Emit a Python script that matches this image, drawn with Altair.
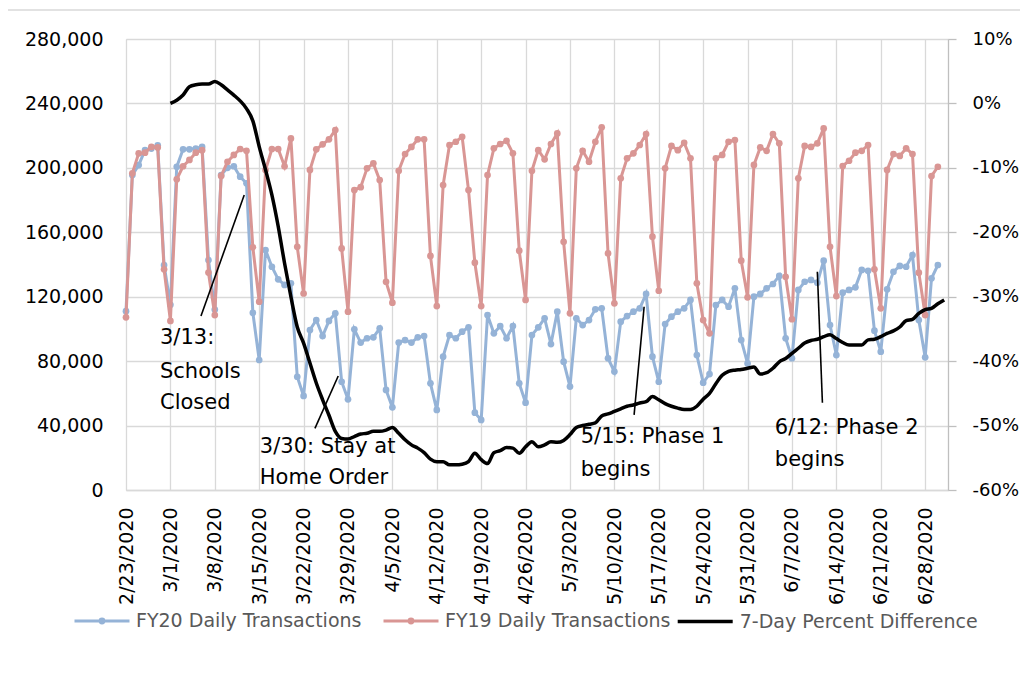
import altair as alt
import pandas as pd

START = pd.Timestamp("2020-02-23")

# FY20 daily transactions (thousands), 2/23/2020 .. 6/30/2020
fy20 = [
    111.0, 195.5, 201.7, 211.0, 212.0, 214.0, 139.7,
    115.0, 200.7, 211.5, 211.5, 212.0, 213.0, 142.8,
    112.0, 195.5, 200.0, 201.0, 194.5, 190.4, 110.0,
    80.7, 149.0, 138.6, 130.8, 127.3, 128.3, 70.3,
    58.4, 99.3, 105.5, 95.6, 105.0, 109.7, 67.2,
    56.3, 99.8, 91.5, 94.2, 94.8, 100.4, 62.1,
    51.3, 91.5, 93.1, 91.5, 94.8, 95.6, 66.2,
    49.7, 82.8, 96.2, 94.2, 98.3, 101.0, 48.0,
    43.5, 108.6, 97.3, 101.8, 94.2, 101.8, 66.2,
    54.2, 96.2, 101.0, 106.6, 90.6, 110.7, 79.7,
    64.2, 106.6, 102.4, 105.5, 112.2, 112.8, 81.8,
    73.5, 104.5, 108.0, 110.7, 112.8, 121.7, 82.8,
    67.2, 103.0, 107.6, 110.7, 112.8, 118.0, 83.8,
    66.6, 72.0, 114.8, 118.0, 113.8, 125.2, 93.1,
    78.6, 120.0, 121.7, 125.2, 127.9, 132.9, 94.2,
    81.8, 124.2, 129.3, 130.4, 128.7, 142.4, 102.4,
    83.8, 122.5, 124.2, 125.8, 136.6, 136.1, 98.9,
    85.9, 124.6, 135.5, 139.1, 138.6, 145.9, 105.5,
    82.4, 131.4, 139.7,
]

# FY19 daily transactions (thousands), aligned by weekday
fy19 = [
    107.2, 196.6, 209.0, 209.4, 213.0, 212.7, 137.0,
    105.0, 192.9, 201.0, 204.9, 209.4, 211.0, 135.0,
    108.6, 195.0, 203.8, 208.0, 211.7, 210.6, 150.7,
    116.9, 198.7, 211.7, 211.7, 201.0, 218.3, 151.0,
    122.0, 198.7, 211.5, 214.6, 217.7, 223.5, 150.0,
    110.7, 186.2, 188.0, 199.7, 202.8, 192.4, 129.3,
    116.3, 198.2, 208.6, 213.0, 217.7, 217.7, 145.3,
    114.2, 189.3, 214.2, 216.2, 219.3, 186.2, 141.1,
    114.2, 195.5, 212.1, 214.8, 216.8, 209.0, 148.6,
    118.0, 198.2, 211.0, 205.3, 214.8, 221.4, 154.1,
    109.7, 199.7, 210.6, 203.8, 216.2, 225.2, 146.9,
    115.9, 193.5, 205.9, 209.0, 214.2, 221.0, 157.3,
    123.7, 199.7, 213.6, 211.0, 215.6, 205.9, 128.3,
    105.5, 97.3, 205.9, 208.0, 216.2, 217.3, 142.4,
    119.6, 201.8, 212.7, 210.6, 221.0, 215.2, 132.4,
    106.0, 193.5, 213.6, 213.0, 215.2, 224.5, 151.0,
    120.4, 201.1, 204.4, 209.4, 210.6, 214.2, 137.0,
    112.8, 198.7, 208.6, 207.4, 212.1, 208.6, 134.9,
    108.6, 194.9, 200.7,
]

# 7-day percent difference (%), 3/1/2020 .. 7/1/2020
pct_start = 7
pct = [
    0.0, 0.5, 1.3, 2.6, 2.9, 3.0, 3.0,
    3.4, 2.9, 2.1, 1.3, 0.4, -0.8, -2.7,
    -6.7, -10.3, -14.2, -19.1, -24.8, -30.0, -34.7,
    -37.2, -40.3, -43.4, -46.0, -48.4, -50.9, -52.0,
    -52.1, -51.7, -51.3, -51.2, -50.9, -50.9, -50.7,
    -50.3, -51.2, -52.2, -53.0, -53.5, -54.2, -55.2,
    -55.6, -55.6, -56.1, -56.1, -56.0, -55.6, -54.3,
    -55.3, -55.9, -54.2, -53.9, -53.4, -53.5, -54.3,
    -53.3, -52.5, -53.3, -53.0, -52.5, -52.6, -52.3,
    -51.4, -50.3, -50.0, -49.8, -49.6, -48.5, -48.2,
    -47.8, -47.4, -47.0, -46.8, -46.5, -46.3, -45.5,
    -46.0, -46.6, -47.0, -47.3, -47.5, -47.5, -47.0,
    -45.9, -45.0, -43.5, -42.2, -41.6, -41.4, -41.3,
    -41.1, -40.9, -42.0, -41.8, -41.1, -40.1, -39.6,
    -38.8, -38.0, -37.2, -36.8, -36.6, -36.2, -35.9,
    -36.5, -37.1, -37.5, -37.5, -37.5, -36.7, -36.6,
    -36.2, -35.7, -35.3, -34.7, -33.7, -33.5, -32.6,
    -32.0, -31.8, -31.1, -30.5,
]

SERIES = ["FY20 Daily Transactions", "FY19 Daily Transactions", "7-Day Percent Difference"]
COLORS = ["#95B3D7", "#D99694", "#000000"]

# annotation text lines: (day offset from 2/23, left-axis value, text)
notes = [
    (5.36, 94400, "3/13:"), (5.36, 73400, "Schools"), (5.36, 54000, "Closed"),
    (21.1, 26900, "3/30: Stay at"), (21.1, 7400, "Home Order"),
    (71.7, 33100, "5/15: Phase 1"), (71.7, 12400, "begins"),
    (102.3, 38300, "6/12: Phase 2"), (102.3, 18600, "begins"),
]
# leader lines: (day0, value0, day1, value1)
leaders = [
    (11.82, 108000, 18.64, 183100),
    (29.79, 38300, 33.46, 70800),
    (80.11, 46600, 81.69, 113800),
    (109.8, 54200, 109.0, 135500),
]


def day(d):
    return (START + pd.Timedelta(days=d)).strftime("%Y-%m-%dT%H:%M:%SZ")


blue_df = pd.DataFrame({"date": [day(i) for i in range(len(fy20))],
                        "value": [v * 1000 for v in fy20], "series": SERIES[0]})
red_df = pd.DataFrame({"date": [day(i) for i in range(len(fy19))],
                       "value": [v * 1000 for v in fy19], "series": SERIES[1]})
black_df = pd.DataFrame({"date": [day(pct_start + i) for i in range(len(pct))],
                         "pct": [p / 100 for p in pct], "series": SERIES[2]})
note_df = pd.DataFrame({"date": [day(n[0]) for n in notes],
                        "value": [n[1] for n in notes], "text": [n[2] for n in notes]})
lead_df = pd.DataFrame({"date": [day(l[0]) for l in leaders], "value": [l[1] for l in leaders],
                        "date2": [day(l[2]) for l in leaders], "value2": [l[3] for l in leaders]})

FONT = "DejaVu Sans"
GRID = "#d9d9d9"

week_vals = [alt.DateTime(year=2020, month=int(t.month), date=int(t.day), utc=True)
             for t in pd.date_range("2020-02-23", "2020-06-28", freq="7D")]

x_scale = alt.Scale(type="utc",
                    domain=[alt.DateTime(year=2020, month=2, date=23, utc=True),
                            alt.DateTime(year=2020, month=7, date=1, hours=14, minutes=24, utc=True)])

x_axis = alt.Axis(values=week_vals, labelExpr="utcFormat(datum.value, '%-m/%-d/%Y')",
                  labelAngle=270,
                  labelFont=FONT, labelFontSize=19, labelColor="#000000", labelPadding=17,
                  ticks=False, tickSize=0, domainColor=GRID, domainWidth=1.3,
                  grid=True, gridColor=GRID, gridWidth=1.3, title=None,
                  labelOverlap=False, labelFlush=False, labelBound=False)

X = alt.X("date:T", scale=x_scale, axis=x_axis)

y_left_scale = alt.Scale(domain=[0, 280000], nice=False, zero=True)
y_left_axis = alt.Axis(values=list(range(0, 280001, 40000)), format=",.0f",
                       labelFont=FONT, labelFontSize=19, labelColor="#000000",
                       labelPadding=23, ticks=False, tickSize=0, domain=False,
                       grid=True, gridColor=GRID, gridWidth=1.3, title=None)

DOT = "M-1,0L1,0M-0.07,0a0.07,0.07 0 1,0 0.14,0a0.07,0.07 0 1,0 -0.14,0"

color = alt.Color("series:N",
                  scale=alt.Scale(domain=SERIES[:2], range=COLORS[:2]),
                  legend=alt.Legend(orient="none", direction="horizontal", title=None,
                                    legendX=-53, legendY=553, padding=0,
                                    symbolType=DOT, symbolSize=3025, symbolStrokeWidth=3,
                                    symbolFillColor="transparent",
                                    labelFont=FONT, labelFontSize=19, labelColor="#595959",
                                    labelOffset=5, columnPadding=15, labelLimit=400))

stroke = alt.Stroke("series:N",
                    scale=alt.Scale(domain=SERIES[2:], range=COLORS[2:]),
                    legend=alt.Legend(orient="none", direction="horizontal", title=None,
                                      legendX=549.7, legendY=553, padding=0,
                                      symbolType="M-1,0L1,0", symbolSize=3025,
                                      symbolStrokeWidth=3.5,
                                      labelFont=FONT, labelFontSize=19, labelColor="#595959",
                                      labelOffset=5, labelLimit=400))

Y = alt.Y("value:Q", scale=y_left_scale, axis=y_left_axis)

blue = alt.Chart(blue_df).mark_line(
    strokeWidth=3, point=alt.OverlayMarkDef(size=45, filled=True, color=COLORS[0])
).encode(x=X, y=Y, color=color)

red = alt.Chart(red_df).mark_line(
    strokeWidth=3, point=alt.OverlayMarkDef(size=45, filled=True, color=COLORS[1])
).encode(x=X, y=Y, color=color)

texts = alt.Chart(note_df).mark_text(
    align="left", baseline="middle", font=FONT, fontSize=21, color="#000000"
).encode(x=X, y=Y, text="text:N")

rules = alt.Chart(lead_df).mark_rule(color="#000000", strokeWidth=1.6).encode(
    x=X, y=Y, x2="date2:T", y2="value2:Q")

frame = alt.Chart(alt.Data(values=[{"a": 1}])).mark_rect(
    fill="transparent", stroke="#d9d9d9", strokeWidth=1.5
).encode(x=alt.value(-119), x2=alt.value(1000), y=alt.value(-29), y2=alt.value(800))

left = alt.layer(frame, blue, red, texts, rules)

black = alt.Chart(black_df).mark_line(
    strokeWidth=3.5, interpolate="monotone"
).encode(
    x=X,
    y=alt.Y("pct:Q", scale=alt.Scale(domain=[-0.6, 0.1], nice=False, zero=False),
            axis=alt.Axis(orient="right", values=[-0.6, -0.5, -0.4, -0.3, -0.2, -0.1, 0, 0.1],
                          labelExpr="(datum.value < -0.0001 ? '-' : '') + format(abs(datum.value), '.0%')",
                          labelFont=FONT, labelFontSize=18, labelColor="#000000",
                          ticks=True, tickSize=8, tickColor="#bfbfbf", tickWidth=1.3,
                          domain=True, domainColor="#bfbfbf", domainWidth=1.3,
                          labelPadding=16, grid=False, title=None)),
    stroke=stroke,
)

chart = alt.layer(left, black).resolve_scale(y="independent").properties(
    width=822, height=451,
    autosize=alt.AutoSizeParams(type="none"),
    padding={"left": 118, "top": 31, "right": 72, "bottom": 180},
).configure_view(stroke=None).configure(background="white")

chart.save("out.html", embed_options={"renderer": "svg", "actions": False})
